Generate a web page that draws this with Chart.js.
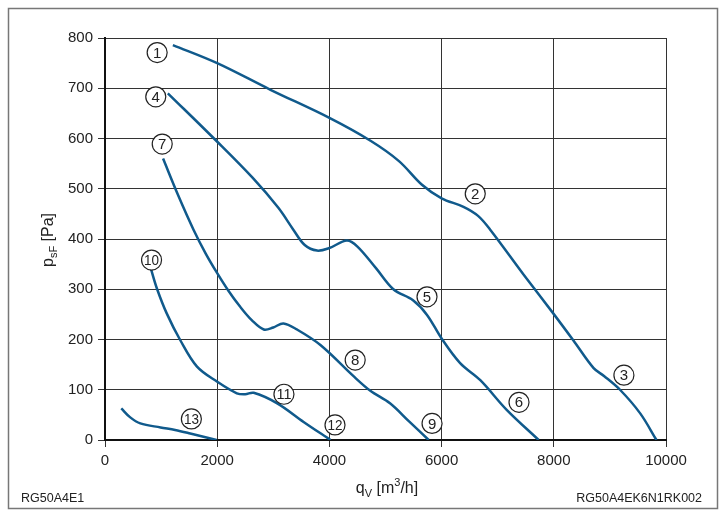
<!DOCTYPE html>
<html>
<head>
<meta charset="utf-8">
<script src="https://cdn.jsdelivr.net/npm/chart.js@4.4.0/dist/chart.umd.min.js"></script>
<style>
  body { margin: 0; background: #fff; }
  #wrap { width: 727px; height: 519px; }
</style>
</head>
<body>
<div id="wrap"><canvas id="fanChart" width="727" height="519"></canvas></div>
<script>
// curve 1-2-3
const qv1 = [1210, 2000, 2950, 4000, 4740, 5240, 5650, 6000, 6390, 6650, 6870, 7470, 7990, 8350, 8710, 8900, 9180, 9540, 9830];
const ps1 = [786, 750, 697, 641, 595, 555, 508, 481, 464, 446, 418, 328, 252, 198, 143, 127, 100, 53, 0];
// curve 4-5-6
const qv4 = [1120, 1970, 2630, 3090, 3360, 3560, 3780, 4000, 4310, 4500, 4830, 5140, 5490, 5740, 6000, 6330, 6690, 7160, 7730];
const ps4 = [690, 597, 522, 462, 418, 388, 377, 382, 397, 385, 342, 300, 278, 249, 202, 153, 119, 60, 0];
// curve 7-8-9
const qv7 = [1035, 1300, 1580, 1800, 2000, 2200, 2410, 2620, 2830, 3000, 3180, 3420, 3840, 4430, 4730, 5080, 5420, 5770];
const ps7 = [560, 488, 418, 370, 332, 297, 265, 238, 220, 224, 232, 220, 189, 127, 98, 73, 37, 0];
// curve 10-11-12
const qv10 = [820, 930, 1100, 1340, 1640, 2000, 2350, 2500, 2650, 3070, 3540, 4020];
const ps10 = [340, 300, 252, 199, 146, 116, 93, 91, 94, 73, 36, 0];
// curve 13
const qv13 = [290, 450, 630, 990, 1250, 1520, 1990];
const ps13 = [63, 45, 33, 25, 20, 13, 0];

// circled marker numbers
const markNums = ['1', '2', '3', '4', '5', '6', '7', '8', '9', '10', '11', '12', '13'];
const markQv = [930, 6600, 9250, 905, 5740, 7380, 1020, 4460, 5830, 830, 3190, 4100, 1540];
const markPs = [771, 490, 129, 683, 285, 75, 589, 159, 33, 358, 91, 30, 42];

const lineColor = '#105a8c';
const font = 'Liberation Sans, Arial, sans-serif';

function curve(xs, ys) {
    return {
        data: xs.map((x, i) => ({ x: x, y: ys[i] })),
        borderColor: lineColor,
        borderWidth: 2.5,
        pointRadius: 0,
        showLine: true,
        tension: 0.35,
        fill: false
    };
}

const markers = {
    id: 'markers',
    afterDatasetsDraw(chart) {
        const ctx = chart.ctx;
        const xs = chart.scales.x, ys = chart.scales.y;
        ctx.save();
        markNums.forEach((t, i) => {
            const px = xs.getPixelForValue(markQv[i]);
            const py = ys.getPixelForValue(markPs[i]);
            ctx.beginPath();
            ctx.arc(px, py, 10, 0, Math.PI * 2);
            ctx.fillStyle = '#fff';
            ctx.fill();
            ctx.lineWidth = 1.2;
            ctx.strokeStyle = '#222';
            ctx.stroke();
            ctx.fillStyle = '#222';
            ctx.font = '15px ' + font;
            ctx.textAlign = 'center';
            ctx.textBaseline = 'middle';
            const w = ctx.measureText(t).width;
            ctx.save();
            ctx.translate(px, py + 1);
            if (w > 15) ctx.scale(15 / w, 1);
            ctx.fillText(t, 0, 0);
            ctx.restore();
        });
        ctx.restore();
    }
};

function drawParts(ctx, parts, x, y) {
    let total = 0;
    parts.forEach(p => { ctx.font = p[1] + 'px ' + font; total += ctx.measureText(p[0]).width; });
    let cx = x - total / 2;
    parts.forEach(p => {
        ctx.font = p[1] + 'px ' + font;
        ctx.fillText(p[0], cx, y + p[2]);
        cx += ctx.measureText(p[0]).width;
    });
}

const decor = {
    id: 'decor',
    afterDraw(chart) {
        const ctx = chart.ctx;
        ctx.save();
        ctx.strokeStyle = '#777';
        ctx.lineWidth = 1.5;
        ctx.strokeRect(8.5, 8.5, 709, 500);
        ctx.fillStyle = '#222';
        ctx.textAlign = 'left';
        ctx.textBaseline = 'alphabetic';
        // x title
        drawParts(ctx, [['q', 16, 0], ['V', 11, 4], [' [m', 16, 0], ['3', 11, -7], ['/h]', 16, 0]], 387, 493);
        // y title
        ctx.save();
        ctx.translate(53, 240);
        ctx.rotate(-Math.PI / 2);
        drawParts(ctx, [['p', 16, 0], ['sF', 11, 4], [' [Pa]', 16, 0]], 0, 0);
        ctx.restore();
        // corner codes
        ctx.font = '12.5px ' + font;
        ctx.textAlign = 'left';
        ctx.fillText('RG50A4E1', 21, 502);
        ctx.textAlign = 'right';
        ctx.fillText('RG50A4EK6N1RK002', 702, 502);
        ctx.restore();
    }
};

const fanChart = new Chart(document.getElementById('fanChart'), {
    type: 'scatter',
    data: {
        datasets: [curve(qv1, ps1), curve(qv4, ps4), curve(qv7, ps7), curve(qv10, ps10), curve(qv13, ps13)]
    },
    options: {
        responsive: false,
        animation: false,
        layout: { padding: { top: 38, right: 61, left: 0, bottom: 0 } },
        plugins: { legend: { display: false }, tooltip: { enabled: false } },
        scales: {
            x: {
                type: 'linear',
                min: 0,
                max: 10000,
                afterFit(scale) { scale.height = 79; },
                ticks: { stepSize: 2000, color: '#222', padding: 5, font: { family: font, size: 15 }, callback: v => String(v) },
                grid: { color: '#333', lineWidth: 1, tickLength: 7 },
                border: { color: '#111', width: 2 }
            },
            y: {
                min: 0,
                max: 800,
                afterFit(scale) { scale.width = 105; },
                ticks: { stepSize: 100, color: '#222', padding: 5, font: { family: font, size: 15 } },
                grid: { color: '#333', lineWidth: 1, tickLength: 7 },
                border: { color: '#111', width: 2 }
            }
        }
    },
    plugins: [markers, decor]
});
</script>
</body>
</html>
